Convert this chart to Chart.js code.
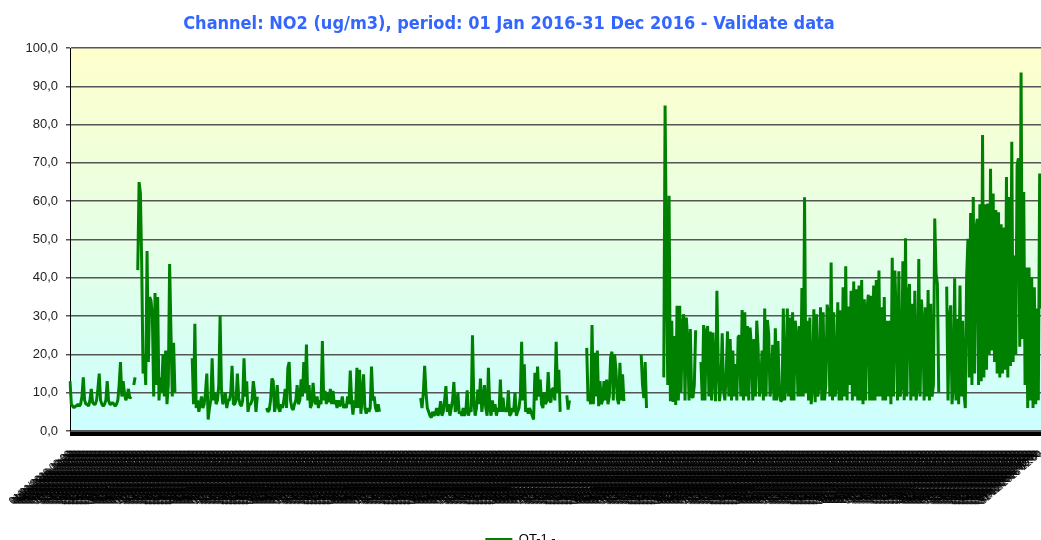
<!DOCTYPE html>
<html>
<head>
<meta charset="utf-8">
<script src="https://cdn.jsdelivr.net/npm/chart.js@4.4.1/dist/chart.umd.min.js"></script>
<style>
  html, body { margin: 0; padding: 0; background: #fff; overflow: hidden; }
  #wrap { width: 1041px; height: 540px; overflow: hidden; position: relative; }
  canvas { display: block; }
</style>
</head>
<body>
<div id="wrap"><canvas id="c" width="1041" height="556"></canvas></div>
<script>
// ---- Data: NO2 (ug/m3), two readings per day (00:00 / 12:00), 2016 ----
const chartTitle = 'Channel: NO2 (ug/m3), period: 01 Jan 2016-31 Dec 2016 - Validate data';
const seriesName = 'OT-1 -';
const monthDays = [31, 29, 31, 30, 31, 30, 31, 31, 30, 31, 30, 31];
const hours = ["00:00", "12:00"];
const yTicks = [0, 10, 20, 30, 40, 50, 60, 70, 80, 90, 100];

const jan = [13,7,6.5,6,6.5,6.5,7,6.5,7,9,
  14,8,7,7,6.5,8,11,7.5,7,7,
  8,11,15,8,7,6.5,7,8,13,8,
  7,7,7.5,7,6.5,7,8,12,18,9,
  13,10,8,9,11,8.5,9,null,12,14,
  null,42,65,62,43,15,20,12,47,18,
  35,34];
const feb = [30,9,36,12,35,8,14,10,20,9,
  21,7,12,43.6,26,9,23,10,null,null,
  null,null,null,null,null,null,null,null,null,null,
  19,7,28,6,8,5,7,9,6,7,
  10,15,3,6,8,19,8,10,7,8,
  12,30,11,7,8,10,6,8];
const mar = [8,10,17,7,7,8,15,8.7,7,6.5,
  8,19,9,13,5,7,7,8,13,10,
  5,9,null,null,null,null,null,null,6,5,
  5.5,8,13.7,13,5,7,12,6,5,7,
  6,8,11,6,16.5,18,8,6,5.5,7,
  8,12,7,8,13.5,9,18,10,22.6,8,
  12,6];
const apr = [7,12.6,8,7,9,6,8,7,23.5,8,
  10.5,7,10,7.5,11,7,10.5,7,8,6,
  8,6.5,7,9,6,7,6,9,7,15.8,
  8,4.3,8,6,16.5,6,16,4.5,9,14.8,
  6,4.5,6,5,6,16.8,8,9,6,5,
  7,5,null,null,null,null,null,null,null,null];
const may = [null,null,null,null,null,null,null,null,null,null,
  null,null,null,null,null,null,null,null,null,null,
  null,null,8.6,6,10,17,10,6,5,4,
  3.5,5,4,4.5,6,4,5,7.8,4,5,
  8,11.7,5,7,4,6,8,12.8,5,6,
  10,4.5,5,4,6,4,5,10.6,4,6,
  5,25];
const jun = [8,4,6,10.8,7,13.7,5,8,12,6,
  4,16.5,6,4,8,5,7,4,6,5,
  13.4,5,8.7,5,6,5,10.6,4,4.5,6,
  5,10,4,5,6,9,23.3,8,17.4,5,
  6,4.5,6,5,4,3,15.2,8,16.8,9,
  13.4,7,6,10,7,8,15.4,8,7.5,11];
const jul = [11,8,23.3,10,16,5,null,null,null,null,
  9.3,5.6,8,null,null,null,null,null,null,null,
  null,null,null,null,null,21.7,7.8,9,7,27.7,
  7,20.4,9,21,6.5,13,7,8,13,8,
  13.4,7,9,19.3,20.7,8,20,16,8.6,7,
  17.8,8,14.8,7.8,null,null,null,null,null,null,
  null,null];
const aug = [null,null,null,null,20,12,8.6,18,6,null,
  null,null,null,null,null,null,null,null,null,null,
  null,14,85,46,12,61.4,7.8,28.8,7.6,24.8,
  6.8,32.7,8,32.7,10,27.9,30.5,8,29.6,23.5,
  8,26.6,9,8.7,12,26.3,null,null,null,18,
  8,27.7,8,26,27.4,9,26,8,25.7,14,
  7.8,36.6];
const sep = [17.5,7.8,12,25.5,10.5,8,15,26,9,24,
  8,21,9,17.5,8,24.5,25,9,31.6,8,
  31,9,27.4,8,27,22,8,24,9,28.8,
  22,9,12,21,8,32,9,29,25.3,9,
  12,22.5,8,26.8,8,23.5,10,7.8,8,32,
  8,12,32,9,29.6,8,31,8,28.8,24.5];
const oct = [9,27.4,9,37.3,9,61,10,28.8,8,29.6,
  7,12,31.8,7.5,30.5,9,12,32.3,8,31,
  8,12,33,30.5,9,44,8,31,9,12,
  33.6,8,31.5,8,37.5,9,43,8,32.5,12,
  36.6,8,39,9,37,8,38,8,39.4,7,
  34.4,8,31.8,35.6,8,35.3,8,38,8,39.4,
  9,41.9];
const nov = [9,32.3,8,35,8,28.8,9,28.8,7,45.2,
  9,41.9,29.5,8,41.7,9,12,44.3,8,50.3,
  9,35.3,38.4,8,33.2,9,36.6,8,12,44.9,
  9,34.3,28.3,8,32.3,9,36.8,8,33.2,9,
  12,55.5,41,38.4,10,null,null,null,null,null,
  37.7,8,29.3,32.8,7,12,39.9,8,29.3,7];
const dec = [38,9,28.8,10,6,40,50.2,14,56.9,12,
  61.1,15,52.8,55.4,12,59.2,13,77.3,14,59.2,
  16,59.4,20,68.5,21,62,18,57.7,15,57.1,
  14,54,15,53.1,16,66.3,14,61.1,17,75.5,
  18,45.8,20,69.4,71.2,22,93.6,24,62.4,12,
  42.7,6,42.7,8,40,6,37.5,7,32,8,
  67.2,32];

const series = [].concat(jan, feb, mar, apr, may, jun, jul, aug, sep, oct, nov, dec);

// category labels (dd/mm/yyyy hh:mm)
const labels = [];
monthDays.forEach((n, m) => {
  for (let d = 1; d <= n; d++) {
    hours.forEach(h => {
      labels.push(String(d).padStart(2, '0') + '/' + String(m + 1).padStart(2, '0') + '/2016 ' + h);
    });
  }
});

const decoPlugin = {
  id: 'deco',
  beforeDraw(chart) {
    const { ctx, chartArea: a } = chart;
    const g = ctx.createLinearGradient(0, a.top, 0, a.bottom);
    g.addColorStop(0, '#FFFFCC');
    g.addColorStop(1, '#CCFFFF');
    ctx.save();
    ctx.fillStyle = g;
    ctx.fillRect(a.left, a.top, a.right - a.left, a.bottom - a.top);
    ctx.restore();
  },
  afterDraw(chart) {
    const { ctx, chartArea: a } = chart;
    ctx.save();
    // heavy category axis line
    ctx.fillStyle = '#000';
    ctx.fillRect(a.left, a.bottom + 0.5, a.right - a.left, 4.5);
    // chart title
    ctx.fillStyle = '#3366FF';
    ctx.font = "bold 18px 'DejaVu Sans Condensed', 'DejaVu Sans', sans-serif";
    ctx.textAlign = 'center';
    ctx.textBaseline = 'alphabetic';
    ctx.fillText(chartTitle, 509, 29);
    ctx.restore();
  }
};

new Chart(document.getElementById('c').getContext('2d'), {
  type: 'line',
  data: {
    labels: labels,
    datasets: [{
      label: seriesName,
      data: series,
      borderColor: '#008000',
      backgroundColor: '#008000',
      borderWidth: 3,
      borderJoinStyle: 'bevel',
      pointRadius: 0,
      pointHoverRadius: 0,
      tension: 0,
      spanGaps: false,
      fill: false
    }]
  },
  options: {
    responsive: false,
    animation: false,
    events: [],
    layout: { padding: { top: 48, left: 0, right: 0, bottom: 0 } },
    plugins: {
      title: { display: false },
      legend: {
        position: 'bottom',
        labels: {
          boxWidth: 27,
          boxHeight: 3,
          color: '#000',
          padding: 10,
          font: { family: "'Liberation Sans', Arial, sans-serif", size: 13 },
          generateLabels(chart) {
            const items = Chart.defaults.plugins.legend.labels.generateLabels(chart);
            items.forEach(i => { i.lineWidth = 0; i.fillStyle = '#008000'; });
            return items;
          }
        }
      },
      tooltip: { enabled: false }
    },
    scales: {
      x: {
        grid: { display: false, drawTicks: false },
        border: { display: false },
        ticks: {
          autoSkip: false,
          minRotation: 40,
          maxRotation: 40,
          padding: 17,
          color: '#000',
          font: { family: "'Liberation Sans', Arial, sans-serif", size: 10 }
        },
        afterFit(s) { s.height = 92; s.paddingLeft = 0; s.paddingRight = 0; }
      },
      y: {
        min: 0,
        max: 100,
        afterBuildTicks(s) { s.ticks = yTicks.map(v => ({ value: v })); },
        ticks: {
          padding: 8,
          color: '#222',
          font: { family: "'Liberation Sans', Arial, sans-serif", size: 13 },
          callback: v => v.toFixed(1).replace('.', ',')
        },
        grid: { color: '#555', lineWidth: 1.5, tickLength: 4 },
        border: { display: true, color: '#000', width: 1 },
        afterFit(s) { s.width = 70; }
      }
    }
  },
  plugins: [decoPlugin]
});
</script>
</body>
</html>
